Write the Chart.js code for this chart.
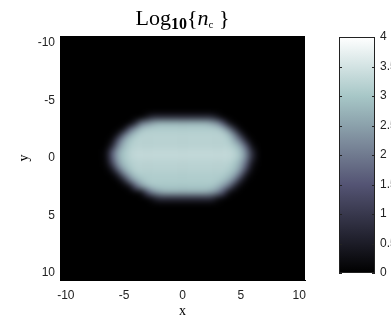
<!DOCTYPE html>
<html>
<head>
<meta charset="utf-8">
<script src="https://cdn.jsdelivr.net/npm/chart.js@4.4.1/dist/chart.umd.min.js"></script>
<style>
  html, body { margin: 0; padding: 0; background: #fff; }
  #wrap { position: relative; width: 391px; height: 320px; overflow: hidden; }
  #myChart { position: absolute; left: 0; top: 0; }
  #myBar { position: absolute; left: 320px; top: 0; }
</style>
</head>
<body>
<div id="wrap">
  <canvas id="myChart" width="391" height="320"></canvas>
  <canvas id="myBar" width="71" height="320"></canvas>
</div>
<script>
// grid of cell centres (only the part around the blob, the rest is 0)
const xs = [-6.5, -6, -5.5, -5, -4.5, -4, -3.5, -3, -2.5, -2, -1.5, -1, -0.5, 0, 0.5, 1, 1.5, 2, 2.5, 3, 3.5, 4, 4.5, 5, 5.5, 6, 6.5];
const ys = [-3.5, -3, -2.5, -2, -1.5, -1, -0.5, 0, 0.5, 1, 1.5, 2, 2.5, 3, 3.5];
// log10(nc), one row per ys value, one column per xs value
const nc = [
  [0, 0, 0, 0, 0, 0, 0, 0.4, 0.8, 0.8, 0.8, 0.8, 0.8, 0.8, 0.8, 0.8, 0.8, 0.8, 0.8, 0.4, 0, 0, 0, 0, 0, 0, 0],
  [0, 0, 0, 0, 0, 0.7, 2.0, 2.3, 2.6, 2.8, 2.8, 2.8, 2.8, 2.8, 2.8, 2.8, 2.8, 2.8, 2.6, 2.3, 1.5, 0.3, 0, 0, 0, 0, 0],
  [0, 0, 0, 0.2, 1.6, 2.4, 2.9, 3.1, 3.1, 3.1, 3.1, 3.1, 3.1, 3.1, 3.1, 3.1, 3.1, 3.1, 3.1, 3.1, 2.8, 2.0, 0.7, 0, 0, 0, 0],
  [0, 0, 0.4, 1.8, 2.6, 3.0, 3.2, 3.2, 3.2, 3.2, 3.2, 3.2, 3.2, 3.2, 3.2, 3.2, 3.2, 3.2, 3.2, 3.2, 3.2, 2.9, 2.1, 0.7, 0, 0, 0],
  [0, 0.2, 1.6, 2.6, 3.0, 3.2, 3.2, 3.2, 3.2, 3.2, 3.2, 3.2, 3.2, 3.2, 3.2, 3.2, 3.2, 3.2, 3.2, 3.2, 3.2, 3.1, 2.6, 1.9, 0.5, 0, 0],
  [0, 0.7, 2.1, 2.8, 3.1, 3.2, 3.2, 3.2, 3.2, 3.2, 3.2, 3.2, 3.2, 3.2, 3.2, 3.2, 3.2, 3.2, 3.2, 3.2, 3.2, 3.2, 3.0, 2.6, 1.6, 0.2, 0],
  [0.2, 1.6, 2.6, 3.0, 3.2, 3.3, 3.3, 3.3, 3.3, 3.3, 3.3, 3.3, 3.3, 3.3, 3.3, 3.3, 3.3, 3.3, 3.3, 3.3, 3.3, 3.3, 3.2, 2.9, 2.1, 0.7, 0],
  [0.2, 1.6, 2.6, 3.0, 3.2, 3.3, 3.3, 3.3, 3.3, 3.3, 3.3, 3.3, 3.3, 3.3, 3.3, 3.3, 3.3, 3.3, 3.3, 3.3, 3.3, 3.3, 3.2, 2.9, 2.1, 0.7, 0],
  [0.1, 1.2, 2.4, 2.9, 3.1, 3.2, 3.2, 3.2, 3.2, 3.2, 3.2, 3.2, 3.2, 3.2, 3.2, 3.2, 3.2, 3.2, 3.2, 3.2, 3.2, 3.2, 3.0, 2.6, 1.7, 0.3, 0],
  [0, 0.4, 1.8, 2.6, 3.0, 3.2, 3.2, 3.2, 3.2, 3.2, 3.2, 3.2, 3.2, 3.2, 3.2, 3.2, 3.2, 3.2, 3.2, 3.2, 3.2, 3.1, 2.9, 2.4, 1.2, 0.1, 0],
  [0, 0, 0.5, 1.9, 2.6, 3.0, 3.1, 3.1, 3.1, 3.1, 3.1, 3.1, 3.1, 3.1, 3.1, 3.1, 3.1, 3.1, 3.1, 3.1, 3.1, 2.9, 2.6, 1.7, 0.3, 0, 0],
  [0, 0, 0, 0.5, 1.9, 2.6, 2.9, 3.1, 3.1, 3.1, 3.1, 3.1, 3.1, 3.1, 3.1, 3.1, 3.1, 3.1, 3.1, 3.1, 2.9, 2.6, 1.9, 0.5, 0, 0, 0],
  [0, 0, 0, 0, 0.2, 1.5, 2.4, 2.8, 3.0, 3.0, 3.0, 3.0, 3.0, 3.0, 3.0, 3.0, 3.0, 3.0, 3.0, 2.8, 2.4, 1.8, 0.5, 0, 0, 0, 0],
  [0, 0, 0, 0, 0, 0, 0.2, 1.4, 2.2, 2.5, 2.7, 2.7, 2.7, 2.7, 2.7, 2.7, 2.7, 2.7, 2.5, 2.2, 1.4, 0.2, 0, 0, 0, 0, 0],
  [0, 0, 0, 0, 0, 0, 0, 0, 0.4, 0.8, 0.8, 0.8, 0.8, 0.8, 0.8, 0.8, 0.8, 0.8, 0.8, 0.3, 0, 0, 0, 0, 0, 0, 0]
];
const xTicks = [-10, -5, 0, 5, 10];
const yTicks = [-10, -5, 0, 5, 10];
const barTicks = [0, 0.5, 1, 1.5, 2, 2.5, 3, 3.5, 4];
const cMin = 0;
const cMax = 4;

// matlab "bone" colormap
function bone(t) {
    t = Math.max(0, Math.min(1, t));
    const hr = Math.min(1, t * 8 / 3);
    const hg = Math.min(1, Math.max(0, (t - 3 / 8) * 8 / 3));
    const hb = Math.max(0, (t - 3 / 4) * 4);
    const r = (7 * t + hb) / 8, g = (7 * t + hg) / 8, b = (7 * t + hr) / 8;
    return 'rgb(' + Math.round(r * 255) + ',' + Math.round(g * 255) + ',' + Math.round(b * 255) + ')';
}

const cells = [];
ys.forEach((y, j) => {
    xs.forEach((x, i) => {
        if (nc[j][i] > 0) cells.push({x: x, y: y, v: nc[j][i]});
    });
});

const tickFont = {family: '"Liberation Sans", Arial, sans-serif', size: 12};
const labelFont = {family: '"Liberation Serif", "Times New Roman", serif', size: 14};

// black image background + smoothing of the cells
const imagePlugin = {
    id: 'image',
    beforeDatasetsDraw(chart) {
        const {ctx, chartArea: a} = chart;
        ctx.save();
        ctx.fillStyle = bone(0);
        ctx.fillRect(a.left, a.top, a.width, a.height);
        ctx.restore();
    },
    afterDatasetsDraw(chart) {
        const {ctx, chartArea: a} = chart;
        const tmp = document.createElement('canvas');
        tmp.width = Math.round(a.width);
        tmp.height = Math.round(a.height);
        tmp.getContext('2d').drawImage(chart.canvas, a.left, a.top, tmp.width, tmp.height, 0, 0, tmp.width, tmp.height);
        ctx.save();
        ctx.beginPath();
        ctx.rect(a.left, a.top, a.width, a.height);
        ctx.clip();
        ctx.filter = 'blur(3.2px)';
        ctx.drawImage(tmp, a.left, a.top);
        ctx.restore();
    }
};

// tex-like title  Log_10{n_c}
const titlePlugin = {
    id: 'texTitle',
    afterDraw(chart) {
        const ctx = chart.ctx;
        const serif = '"Liberation Serif", "Times New Roman", serif';
        const parts = [
            {t: 'Log', f: '22px ' + serif, dy: 0},
            {t: '10', f: 'bold 16px ' + serif, dy: 4},
            {t: '{', f: '22px ' + serif, dy: 0},
            {t: 'n', f: 'italic 22px ' + serif, dy: 0},
            {t: 'c', f: '11px ' + serif, dy: 3},
            {t: ' }', f: '22px ' + serif, dy: 0}
        ];
        ctx.save();
        ctx.fillStyle = '#000';
        ctx.textBaseline = 'alphabetic';
        let total = 0;
        parts.forEach(p => { ctx.font = p.f; p.w = ctx.measureText(p.t).width; total += p.w; });
        let x = (chart.chartArea.left + chart.chartArea.right) / 2 - total / 2;
        parts.forEach(p => {
            ctx.font = p.f;
            ctx.fillText(p.t, x, 25 + p.dy);
            x += p.w;
        });
        ctx.restore();
    }
};

const myChart = new Chart(document.getElementById('myChart'), {
    type: 'scatter',
    data: {
        datasets: [{
            data: cells,
            pointStyle: 'rect',
            pointRadius: 4.6,
            borderWidth: 0,
            backgroundColor: c => (c.raw ? bone((c.raw.v - cMin) / (cMax - cMin)) : '#000')
        }]
    },
    options: {
        responsive: false,
        animation: false,
        events: [],
        layout: {padding: {left: 0, top: 36, right: 86, bottom: 0}},
        plugins: {
            legend: {display: false},
            tooltip: {enabled: false}
        },
        scales: {
            x: {
                type: 'linear',
                min: -10.5,
                max: 10.5,
                afterFit: s => { s.height = 40; },
                afterBuildTicks: s => { s.ticks = xTicks.map(v => ({value: v})); },
                grid: {display: false, drawTicks: false},
                border: {display: true, color: '#000'},
                ticks: {padding: 8, color: '#222', font: tickFont, maxRotation: 0},
                title: {display: true, text: 'x', color: '#000', font: labelFont, padding: 0}
            },
            y: {
                type: 'linear',
                reverse: true,
                min: -10.6,
                max: 10.6,
                afterFit: s => { s.width = 60; },
                afterBuildTicks: s => { s.ticks = yTicks.map(v => ({value: v})); },
                grid: {display: false, drawTicks: false},
                border: {display: true, color: '#000'},
                ticks: {padding: 5, color: '#222', font: tickFont},
                title: {display: true, text: 'y', color: '#000', font: labelFont, padding: {top: 16, bottom: 0}}
            }
        }
    },
    plugins: [imagePlugin, titlePlugin]
});

// colorbar
const barFrame = {
    id: 'barFrame',
    afterDraw(chart) {
        const {ctx, chartArea: a} = chart;
        const y = chart.scales.y;
        ctx.save();
        ctx.strokeStyle = '#222';
        ctx.lineWidth = 1;
        ctx.strokeRect(Math.round(a.left) + 0.5, Math.round(a.top) + 0.5, Math.round(a.width) - 1, Math.round(a.height) - 1);
        ctx.beginPath();
        barTicks.forEach(v => {
            const py = Math.round(y.getPixelForValue(v)) + 0.5;
            ctx.moveTo(a.left, py);
            ctx.lineTo(a.left + 3, py);
            ctx.moveTo(a.right - 3, py);
            ctx.lineTo(a.right, py);
        });
        ctx.stroke();
        ctx.restore();
    }
};

function barGradient(chart) {
    const a = chart.chartArea;
    if (!a) return '#888';
    const g = chart.ctx.createLinearGradient(0, a.bottom, 0, a.top);
    for (let k = 0; k <= 16; k++) {
        g.addColorStop(k / 16, bone(k / 16));
    }
    return g;
}

const myBar = new Chart(document.getElementById('myBar'), {
    type: 'bar',
    data: {
        labels: [''],
        datasets: [{
            data: [[cMin, cMax]],
            backgroundColor: c => barGradient(c.chart),
            borderWidth: 0,
            barPercentage: 1,
            categoryPercentage: 1
        }]
    },
    options: {
        responsive: false,
        animation: false,
        events: [],
        layout: {padding: {left: 19, top: 37, right: 0, bottom: 47}},
        plugins: {
            legend: {display: false},
            tooltip: {enabled: false}
        },
        scales: {
            x: {display: false},
            y: {
                position: 'right',
                min: cMin,
                max: cMax,
                afterFit: s => { s.width = 16; },
                afterBuildTicks: s => { s.ticks = barTicks.map(v => ({value: v})); },
                grid: {display: false, drawTicks: false},
                border: {display: false},
                ticks: {padding: 5, color: '#222', font: tickFont, callback: v => String(v)}
            }
        }
    },
    plugins: [barFrame]
});
</script>
</body>
</html>
